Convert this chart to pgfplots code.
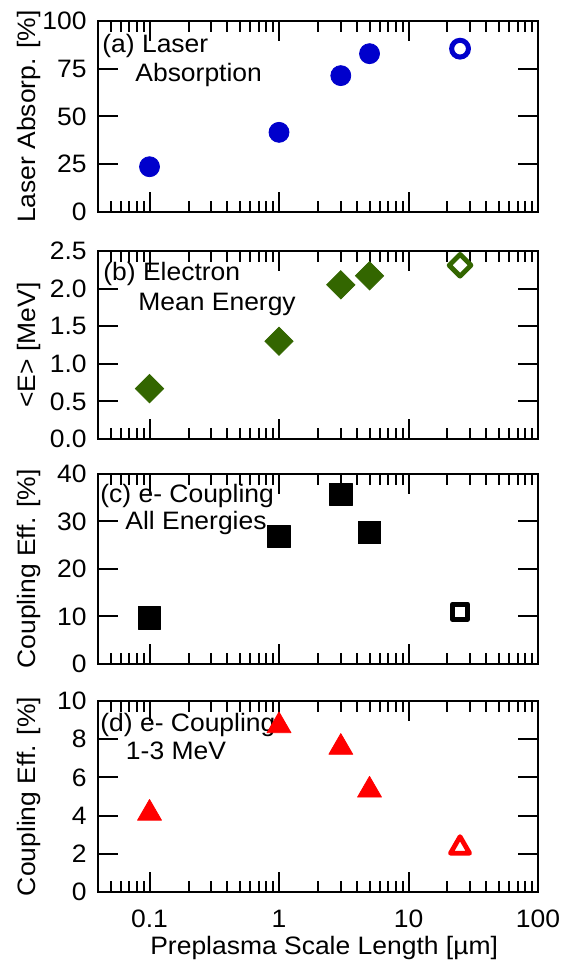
\documentclass[border=0pt]{standalone}
\usepackage{fontspec}
\setmainfont{Liberation Sans}[FakeStretch=1.05]
\usepackage{pgfplots}
\pgfplotsset{compat=1.18}
\definecolor{cblue}{RGB}{0,0,204}
\definecolor{cgreen}{RGB}{51,102,0}
\definecolor{cred}{RGB}{255,0,0}
\pgfplotsset{
  panel/.style={
    scale only axis, width=220pt,
    xmin=0.04, xmax=100,
    xtick={0.1,1,10,100}, xticklabels={},
    minor xtick={0.05,0.06,0.07,0.08,0.09,0.2,0.3,0.4,0.5,0.6,0.7,0.8,0.9,2,3,4,5,6,7,8,9,20,30,40,50,60,70,80,90},
    tick align=inside, major tick length=10pt, minor tick length=5.5pt,
    axis line style={line width=1pt},
    every tick/.style={black, line width=1pt},
    /pgf/number format/assume math mode=true,
    yticklabel style={anchor=east, inner sep=0pt, xshift=-5.5pt},
    xticklabel style={anchor=base, inner sep=0pt, yshift=-17.5pt},
    every axis y label/.style={at={([xshift=-31pt]axis description cs:0,0.5)}, rotate=90, anchor=base},
    every axis x label/.style={at={([yshift=-31.3pt]axis description cs:0.514,0)}, anchor=base},
    clip=false,
  },
}
\tikzset{lab/.style={anchor=base west, inner sep=0pt}}
\begin{document}
\begin{tikzpicture}[font=\fontsize{12.6}{15}\selectfont]
\useasboundingbox (-49pt,0pt) rectangle (236pt,480pt);
% (a)
\begin{semilogxaxis}[panel, height=95.5pt, anchor=south west, at={(0pt,374pt)},
  ymin=0, ymax=100, ytick={0,25,50,75,100}, ylabel={Laser Absorp. [\%]}]
\addplot[only marks, mark=*, mark size=5pt, mark options={fill=cblue, draw=cblue}]
  coordinates {(0.1,23.7) (1,41.7) (3,71.4) (5,82.9)};
\addplot[only marks, mark=o, mark size=4.2pt, mark options={draw=cblue, line width=2.5pt}]
  coordinates {(25,85.5)};
\node[lab] at ([xshift=2pt,yshift=-16pt]rel axis cs:0,1) {(a) Laser};
\node[lab] at ([xshift=18.5pt,yshift=-30.5pt]rel axis cs:0,1) {Absorption};
\end{semilogxaxis}
% (b)
\begin{semilogxaxis}[panel, height=94pt, anchor=south west, at={(0pt,260.5pt)},
  ymin=0, ymax=2.5, ytick={0,0.5,1,1.5,2,2.5},
  yticklabel style={/pgf/number format/.cd, fixed, fixed zerofill, precision=1},
  ylabel={\textless E\textgreater{} [MeV]}]
\addplot[only marks, mark=square*, mark size=5pt, mark options={rotate=45, fill=cgreen, draw=cgreen}]
  coordinates {(0.1,0.67) (1,1.30) (3,2.05) (5,2.17)};
\addplot[only marks, mark=square, mark size=3.85pt, mark options={rotate=45, draw=cgreen, line width=2.4pt, line join=round}]
  coordinates {(25,2.31)};
\node[lab] at ([xshift=2.5pt,yshift=-15pt]rel axis cs:0,1) {(b) Electron};
\node[lab] at ([xshift=20pt,yshift=-29.7pt]rel axis cs:0,1) {Mean Energy};
\end{semilogxaxis}
% (c)
\begin{semilogxaxis}[panel, height=95pt, anchor=south west, at={(0pt,148pt)},
  ymin=0, ymax=40, ytick={0,10,20,30,40}, ylabel={Coupling Eff. [\%]}]
\addplot[only marks, mark=square*, mark size=5.6pt, mark options={fill=black, draw=black, line join=round}]
  coordinates {(0.1,9.7) (1,26.8) (3,35.7) (5,27.7)};
\addplot[only marks, mark=square, mark size=3.8pt, mark options={draw=black, line width=2.5pt, line join=round}]
  coordinates {(25,11.0)};
\node[lab] at ([xshift=1pt,yshift=-14.5pt]rel axis cs:0,1) {(c) e- Coupling};
\node[lab] at ([xshift=13.5pt,yshift=-28pt]rel axis cs:0,1) {All Energies};
\end{semilogxaxis}
% (d)
\begin{semilogxaxis}[panel, height=95.5pt, anchor=south west, at={(0pt,34pt)},
  ymin=0, ymax=10, ytick={0,2,4,6,8,10}, ylabel={Coupling Eff. [\%]},
  xticklabels={0.1,1,10,100}, xlabel={Preplasma Scale Length [µm]}]
\addplot[only marks, mark=triangle*, mark size=6.9pt, mark options={fill=cred, draw=cred, line join=round}]
  coordinates {(0.1,4.12) (1,8.70) (3,7.57) (5,5.33)};
\addplot[only marks, mark=triangle, mark size=5.5pt, mark options={draw=cred, line width=2.4pt, line join=round}]
  coordinates {(25,2.32)};
\node[lab] at ([xshift=1pt,yshift=-15pt]rel axis cs:0,1) {(d) e- Coupling};
\node[lab] at ([xshift=13.8pt,yshift=-29.2pt]rel axis cs:0,1) {1-3 MeV};
\end{semilogxaxis}
\end{tikzpicture}
\end{document}
